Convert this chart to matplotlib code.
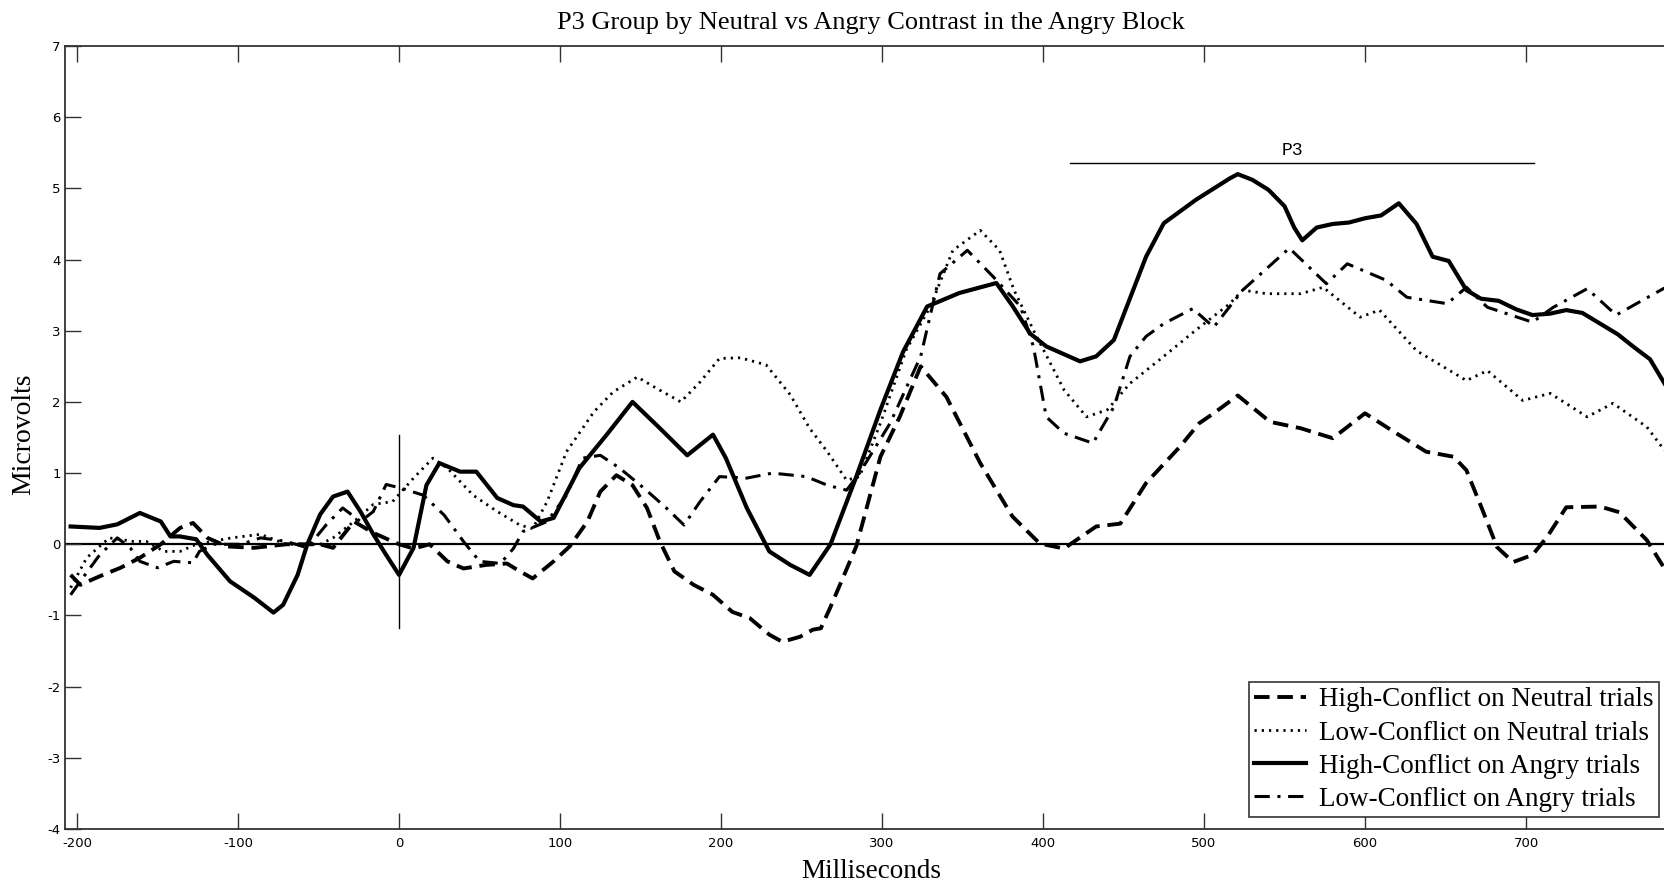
import matplotlib
matplotlib.use("Agg")
import matplotlib.pyplot as plt

plt.rcParams["axes.unicode_minus"] = False

# ERP waveforms (ms, microvolts)
hc_neutral_t = [-204, -198, -186, -173, -161, -148, -136, -128, -119, -107, -90, -70, -49, -41, -28, -16, 0, 9,
                19, 30, 40, 54, 67, 75, 83, 96, 106, 117, 125, 135, 145, 154, 162, 171, 183, 195, 207, 218,
                230, 238, 249, 257, 262, 268, 284, 299, 311, 324, 340, 361, 381, 398, 413, 433, 448, 464,
                485, 497, 506, 521, 541, 560, 580, 600, 618, 638, 655, 663, 673, 682, 692, 704, 713, 725,
                746, 758, 775, 786]
hc_neutral_v = [-0.43, -0.57, -0.45, -0.33, -0.19, 0.0, 0.23, 0.3, 0.09, -0.03, -0.05, 0.0, 0.0, -0.05, 0.32, 0.16,
                0.0, -0.06, 0.0, -0.24, -0.34, -0.29, -0.27, -0.38, -0.48, -0.24, -0.03, 0.32, 0.74, 0.97, 0.83,
                0.51, 0.04, -0.38, -0.57, -0.71, -0.95, -1.04, -1.27, -1.37, -1.3, -1.2, -1.18, -0.88, -0.03,
                1.23, 1.79, 2.5, 2.07, 1.14, 0.39, 0.01, -0.06, 0.25, 0.29, 0.86, 1.37, 1.7, 1.84, 2.09, 1.72,
                1.63, 1.49, 1.84, 1.58, 1.3, 1.23, 1.04, 0.48, -0.04, -0.25, -0.15, 0.1, 0.52, 0.53, 0.45,
                0.06, -0.34]

lc_neutral_t = [-204, -194, -180, -165, -157, -146, -136, -126, -104, -86, -70, -49, -41, -28, -16, -4, 9, 21,
                30, 46, 61, 75, 83, 92, 104, 121, 133, 148, 160, 175, 187, 199, 212, 228, 243, 255, 266, 278,
                286, 299, 315, 330, 344, 361, 373, 382, 394, 413, 427, 440, 454, 475, 495, 516, 524, 539, 560,
                574, 597, 609, 632, 663, 676, 698, 715, 738, 754, 775, 786]
lc_neutral_v = [-0.61, -0.19, 0.09, 0.04, 0.04, -0.1, -0.1, 0.0, 0.09, 0.14, 0.0, 0.0, 0.09, 0.32, 0.56, 0.6,
                0.93, 1.21, 1.07, 0.69, 0.46, 0.27, 0.22, 0.6, 1.3, 1.86, 2.14, 2.35, 2.19, 2.0, 2.28, 2.61,
                2.62, 2.52, 2.1, 1.63, 1.3, 0.9, 0.95, 1.7, 2.73, 3.34, 4.13, 4.41, 4.13, 3.57, 3.01, 2.17,
                1.79, 1.89, 2.26, 2.64, 3.01, 3.38, 3.57, 3.52, 3.52, 3.61, 3.19, 3.29, 2.72, 2.3, 2.44, 2.02,
                2.12, 1.79, 1.98, 1.65, 1.32]

hc_angry_t = [-204, -186, -175, -161, -148, -142, -136, -126, -119, -105, -90, -78, -72, -63, -57, -49, -41,
              -32, -24, -16, -8, 0, 9, 17, 25, 38, 48, 61, 71, 77, 88, 96, 112, 129, 145, 162, 179, 195, 203,
              216, 230, 243, 255, 268, 284, 299, 313, 328, 348, 371, 381, 392, 402, 423, 433, 444, 464, 475,
              495, 516, 521, 530, 540, 550, 556, 561, 570, 580, 590, 600, 610, 621, 632, 642, 652, 663, 672,
              683, 694, 704, 715, 725, 735, 746, 757, 767, 777, 786]
hc_angry_v = [0.25, 0.23, 0.28, 0.44, 0.32, 0.11, 0.11, 0.07, -0.15, -0.52, -0.75, -0.96, -0.85, -0.43, 0.0,
              0.42, 0.67, 0.74, 0.46, 0.14, -0.15, -0.43, -0.05, 0.83, 1.14, 1.02, 1.02, 0.65, 0.55, 0.53, 0.32,
              0.37, 1.07, 1.54, 2.0, 1.63, 1.25, 1.54, 1.21, 0.51, -0.1, -0.29, -0.43, 0.0, 0.95, 1.89, 2.7,
              3.34, 3.53, 3.67, 3.35, 2.96, 2.78, 2.57, 2.64, 2.87, 4.04, 4.51, 4.84, 5.14, 5.2, 5.12, 4.98,
              4.75, 4.45, 4.27, 4.45, 4.5, 4.52, 4.58, 4.62, 4.79, 4.5, 4.04, 3.98, 3.57, 3.45, 3.42, 3.3, 3.22,
              3.24, 3.29, 3.25, 3.1, 2.95, 2.77, 2.6, 2.26]

lc_angry_t = [-204, -198, -186, -175, -167, -161, -150, -140, -128, -124, -115, -98, -86, -70, -57, -45, -35,
              -24, -16, -8, 1, 15, 28, 40, 50, 63, 71, 77, 92, 104, 114, 125, 137, 152, 166, 177, 187, 199,
              216, 232, 253, 266, 278, 286, 305, 324, 336, 353, 369, 386, 394, 402, 413, 431, 444, 454, 464,
              475, 493, 506, 524, 553, 576, 589, 613, 626, 651, 663, 676, 704, 717, 738, 756, 767, 786]
lc_angry_v = [-0.71, -0.52, -0.15, 0.09, -0.05, -0.24, -0.33, -0.24, -0.26, -0.1, 0.0, 0.0, 0.09, 0.04, -0.05,
              0.28, 0.51, 0.32, 0.46, 0.84, 0.79, 0.69, 0.41, 0.04, -0.24, -0.27, -0.06, 0.18, 0.32, 0.69,
              1.21, 1.25, 1.07, 0.79, 0.51, 0.27, 0.6, 0.95, 0.93, 1.0, 0.95, 0.83, 0.76, 1.0, 1.7, 2.64, 3.8,
              4.13, 3.76, 3.34, 2.78, 1.79, 1.56, 1.42, 1.93, 2.64, 2.92, 3.1, 3.31, 3.05, 3.57, 4.16, 3.66,
              3.94, 3.71, 3.47, 3.38, 3.61, 3.33, 3.12, 3.33, 3.59, 3.22, 3.36, 3.6]

labels = ["High-Conflict on Neutral trials", "Low-Conflict on Neutral trials",
          "High-Conflict on Angry trials", "Low-Conflict on Angry trials"]
x_ticks = [-200, -100, 0, 100, 200, 300, 400, 500, 600, 700]
y_ticks = [-4, -3, -2, -1, 0, 1, 2, 3, 4, 5, 6, 7]

p3_window = [417, 705]
p3_level = 5.36

serif = "Liberation Serif"

fig = plt.figure(figsize=(16.65, 8.84), dpi=100)
# the right spine sits just past the image edge, as in the original
ax = fig.add_axes([65 / 1665, 1 - 829 / 884, (1687 - 65) / 1665, (829 - 46) / 884])

ax.plot(hc_neutral_t, hc_neutral_v, color="black", lw=2.8, dashes=(4, 2), label=labels[0])
ax.plot(lc_neutral_t, lc_neutral_v, color="black", lw=2.0, dashes=(0.8, 1.8), label=labels[1])
ax.plot(hc_angry_t, hc_angry_v, color="black", lw=3.0, label=labels[2])
ax.plot(lc_angry_t, lc_angry_v, color="black", lw=2.2, dashes=(5, 2.5, 1, 2.5), label=labels[3])

# zero line, stimulus onset marker and P3 window
ax.axhline(0, color="black", lw=1.6, zorder=1)
ax.plot([0, 0], [-1.18, 1.53], color="black", lw=1)
ax.plot(p3_window, [p3_level, p3_level], color="black", lw=1)
ax.text(555, p3_level + 0.05, "P3", ha="center", va="bottom",
        family="Liberation Mono", fontsize=13)

ax.set_xlim(-207.5, 800)
ax.set_ylim(-4, 7)
ax.set_xticks(x_ticks)
ax.set_yticks(y_ticks)
ax.tick_params(direction="in", length=11.5, width=1, top=True, right=True,
               labelsize=9.5, colors="#333333", labelcolor="black")
ax.tick_params(axis="x", pad=6)
ax.tick_params(axis="y", pad=3)
for sp in ax.spines.values():
    sp.set_linewidth(1.3)
    sp.set_color("#333333")

fig.text(871 / 1665, 1 - 23 / 884, "P3 Group by Neutral vs Angry Contrast in the Angry Block",
         ha="center", va="center", family=serif, fontsize=19)
fig.text(871 / 1665, 1 - 871 / 884, "Milliseconds", ha="center", va="center",
         family=serif, fontsize=19.5)
fig.text(24 / 1665, 1 - 434 / 884, "Microvolts", ha="center", va="center", rotation=90,
         family=serif, fontsize=20)

leg = ax.legend(loc="upper left", bbox_to_anchor=(1249 / 1665, 1 - 682 / 884),
                bbox_transform=fig.transFigure, prop={"family": serif, "size": 19.5},
                fancybox=False, framealpha=1, edgecolor="#333333", handlelength=1.9,
                handletextpad=0.5, labelspacing=0.3, borderpad=0.2, borderaxespad=0)
leg.get_frame().set_linewidth(1.2)

fig.savefig("out.png", dpi=100)
